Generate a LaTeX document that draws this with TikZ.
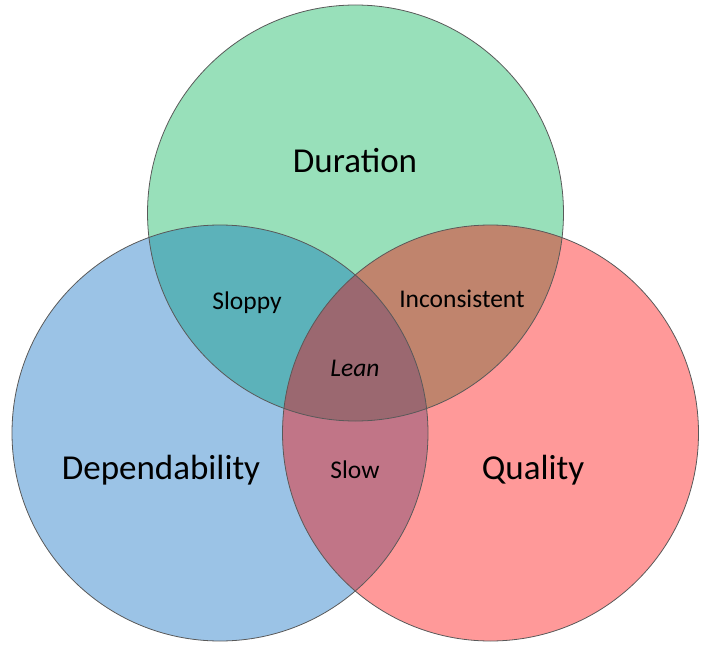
\documentclass[tikz,border=0pt]{standalone}
\usepackage{fontspec}
\setmainfont{Carlito}
\definecolor{cdur}{HTML}{98E0BA}
\definecolor{cdep}{HTML}{9BC3E6}
\definecolor{cqual}{HTML}{FF9999}
\definecolor{csloppy}{HTML}{5CB2BA}
\definecolor{cincons}{HTML}{C0846D}
\definecolor{cslow}{HTML}{C17587}
\definecolor{clean}{HTML}{9B6870}
\begin{document}
\begin{tikzpicture}[x=1pt,y=-1pt,
  big/.style={font=\fontsize{35}{42}\selectfont, inner sep=0pt},
  small/.style={font=\fontsize{25.5}{30}\selectfont, inner sep=0pt},
  outline/.style={draw=black!65, line width=0.8pt}]
\useasboundingbox (0,0) rectangle (704,658);
\coordinate (D) at (355.5,213);
\coordinate (P) at (220,433);
\coordinate (Q) at (490.5,433);
\fill[cdur] (D) circle[radius=208pt];
\fill[cdep] (P) circle[radius=208pt];
\fill[cqual] (Q) circle[radius=208pt];
\begin{scope}
  \clip (D) circle[radius=208pt];
  \fill[csloppy] (P) circle[radius=208pt];
  \fill[cincons] (Q) circle[radius=208pt];
\end{scope}
\begin{scope}
  \clip (P) circle[radius=208pt];
  \fill[cslow] (Q) circle[radius=208pt];
  \clip (D) circle[radius=208pt];
  \fill[clean] (Q) circle[radius=208pt];
\end{scope}
\draw[outline] (D) circle[radius=208pt];
\draw[outline] (P) circle[radius=208pt];
\draw[outline] (Q) circle[radius=208pt];
\node[big] (dur) at (355,161) {Duration};
\node[big] (dep) at (161,470) {Dependability};
\node[big] (qual) at (533,470) {Quality};
\node[small] (sloppy) at (247,303) {Sloppy};
\node[small] (incons) at (462,299) {Inconsistent};
\node[small] (lean) at (355,368) {\itshape Lean};
\node[small] (slow) at (355,470) {Slow};
\end{tikzpicture}
\end{document}
